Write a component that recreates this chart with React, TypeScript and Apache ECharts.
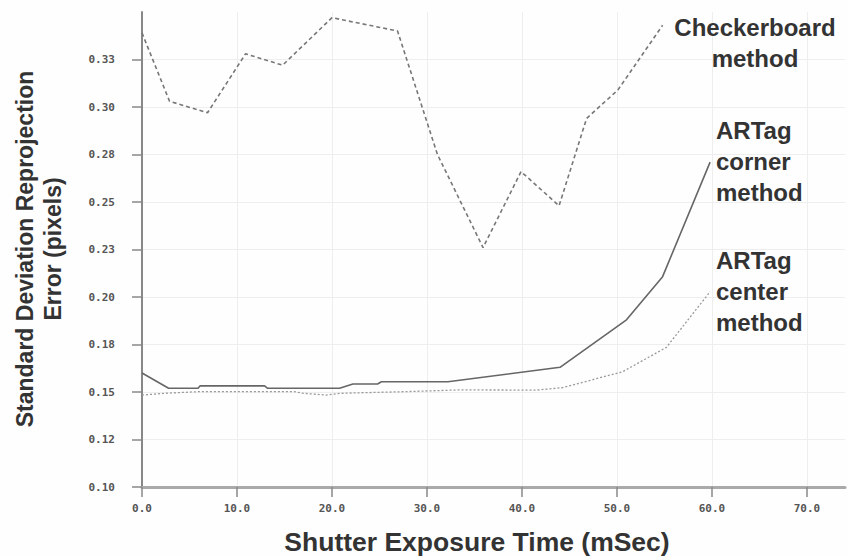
import React, { useEffect, useRef } from "react";
import * as echarts from "echarts";

// ---- data ----
const xTicks = [0, 10, 20, 30, 40, 50, 60, 70];
const yTicks = [0.1, 0.125, 0.15, 0.175, 0.2, 0.225, 0.25, 0.275, 0.3, 0.325];
const yTickLabels = ["0.10", "0.12", "0.15", "0.18", "0.20", "0.23", "0.25", "0.28", "0.30", "0.33"];

const checkerX = [0, 2.9, 6.9, 10.9, 14.8, 20.0, 26.9, 31.1, 35.9, 39.9, 43.9, 46.8, 50.1, 54.8];
const checkerY = [0.339, 0.303, 0.297, 0.328, 0.322, 0.347, 0.34, 0.275, 0.226, 0.266, 0.248, 0.294, 0.309, 0.343];

const cornerX = [0, 2.8, 5.9, 6.1, 12.9, 13.2, 20.8, 22.2, 24.8, 25.2, 32.2, 44, 51, 54.8, 59.8];
const cornerY = [0.16, 0.152, 0.152, 0.1532, 0.1532, 0.152, 0.152, 0.1542, 0.1542, 0.1554, 0.1554, 0.163, 0.188, 0.2107, 0.271];

const centerX = [0, 2.4, 6, 16, 17, 19.4, 20.8, 27.8, 33.4, 41.5, 44.3, 50.6, 55.2, 59.8];
const centerY = [0.1484, 0.1493, 0.1502, 0.1502, 0.1493, 0.1484, 0.1493, 0.1502, 0.1511, 0.151, 0.1523, 0.1607, 0.1735, 0.2028];

const seriesNames = ["Checkerboard\nmethod", "ARTag\ncorner\nmethod", "ARTag\ncenter\nmethod"];
const xTitle = "Shutter Exposure Time (mSec)";
const yTitle = "Standard Deviation Reprojection\nError (pixels)";

const zip = (xs: number[], ys: number[]) => xs.map((x, i) => [x, ys[i]]);

export default function App() {
  const ref = useRef<HTMLDivElement>(null);
  useEffect(() => {
    if (!ref.current) return;
    const chart = echarts.init(ref.current, null, { renderer: "svg" });
    const tickFont = {
      fontFamily: "DejaVu Sans Mono",
      fontWeight: "bold" as const,
      fontSize: 11,
      color: "#555",
    };
    const titleFont = {
      fontFamily: "Liberation Sans",
      fontWeight: "bold" as const,
    };
    chart.setOption({
      animation: false,
      backgroundColor: "#fefefe",
      grid: { left: 142, right: 3, top: 12, bottom: 70, containLabel: false, outerBoundsMode: "none" },
      xAxis: {
        type: "value",
        min: 0,
        max: 74,
        interval: 10,
        axisLine: { show: true, lineStyle: { color: "#aaa", width: 3 } },
        axisTick: {
          show: true,
          length: 10,
          customValues: xTicks,
          lineStyle: { color: "#888", width: 1.5 },
        },
        axisLabel: {
          customValues: xTicks,
          margin: 16,
          ...tickFont,
          formatter: (v: number) => v.toFixed(1),
        },
        splitLine: { show: true, lineStyle: { color: "#eeeeee", width: 1 } },
      },
      yAxis: {
        type: "value",
        min: 0.1,
        max: 0.35,
        interval: 0.025,
        axisLine: { show: true, lineStyle: { color: "#888", width: 2 } },
        axisTick: {
          show: true,
          length: 10,
          customValues: yTicks,
          lineStyle: { color: "#888", width: 1.5 },
        },
        axisLabel: {
          customValues: yTicks,
          margin: 27,
          ...tickFont,
          formatter: (v: number) => {
            const i = Math.round((v - 0.1) / 0.025);
            return yTickLabels[i] ?? "";
          },
        },
        splitLine: { show: true, lineStyle: { color: "#eeeeee", width: 1 } },
      },
      series: [
        {
          type: "line",
          name: seriesNames[0],
          data: zip(checkerX, checkerY),
          symbol: "none",
          lineStyle: { color: "#777", width: 1.6, type: [4, 3] },
        },
        {
          type: "line",
          name: seriesNames[1],
          data: zip(cornerX, cornerY),
          symbol: "none",
          lineStyle: { color: "#666", width: 1.6, type: "solid" },
        },
        {
          type: "line",
          name: seriesNames[2],
          data: zip(centerX, centerY),
          symbol: "none",
          lineStyle: { color: "#999", width: 1.3, type: [2, 2] },
        },
      ],
      graphic: [
        {
          type: "text",
          x: 755,
          y: 12,
          z: 100,
          style: {
            text: seriesNames[0],
            ...titleFont,
            fill: "#333",
            fontSize: 24,
            lineHeight: 31,
            textAlign: "center",
            textVerticalAlign: "top",
          },
        },
        {
          type: "text",
          x: 716,
          y: 115,
          z: 100,
          style: {
            text: seriesNames[1],
            ...titleFont,
            fill: "#333",
            fontSize: 24,
            lineHeight: 31,
            textAlign: "left",
            textVerticalAlign: "top",
          },
        },
        {
          type: "text",
          x: 716,
          y: 245,
          z: 100,
          style: {
            text: seriesNames[2],
            ...titleFont,
            fill: "#333",
            fontSize: 24,
            lineHeight: 31,
            textAlign: "left",
            textVerticalAlign: "top",
          },
        },
        {
          type: "text",
          x: 477,
          y: 542,
          z: 100,
          style: {
            text: xTitle,
            ...titleFont,
            fill: "#333",
            fontSize: 26.5,
            textAlign: "center",
            textVerticalAlign: "middle",
          },
        },
        {
          type: "text",
          x: 39,
          y: 249,
          rotation: Math.PI / 2,
          z: 100,
          style: {
            text: yTitle,
            ...titleFont,
            fill: "#333",
            fontSize: 23,
            lineHeight: 28,
            textAlign: "center",
            textVerticalAlign: "middle",
          },
        },
      ],
    });
    return () => chart.dispose();
  }, []);
  return <div ref={ref} style={{ width: 848, height: 557, position: "absolute", left: 0, top: 0 }} />;
}
